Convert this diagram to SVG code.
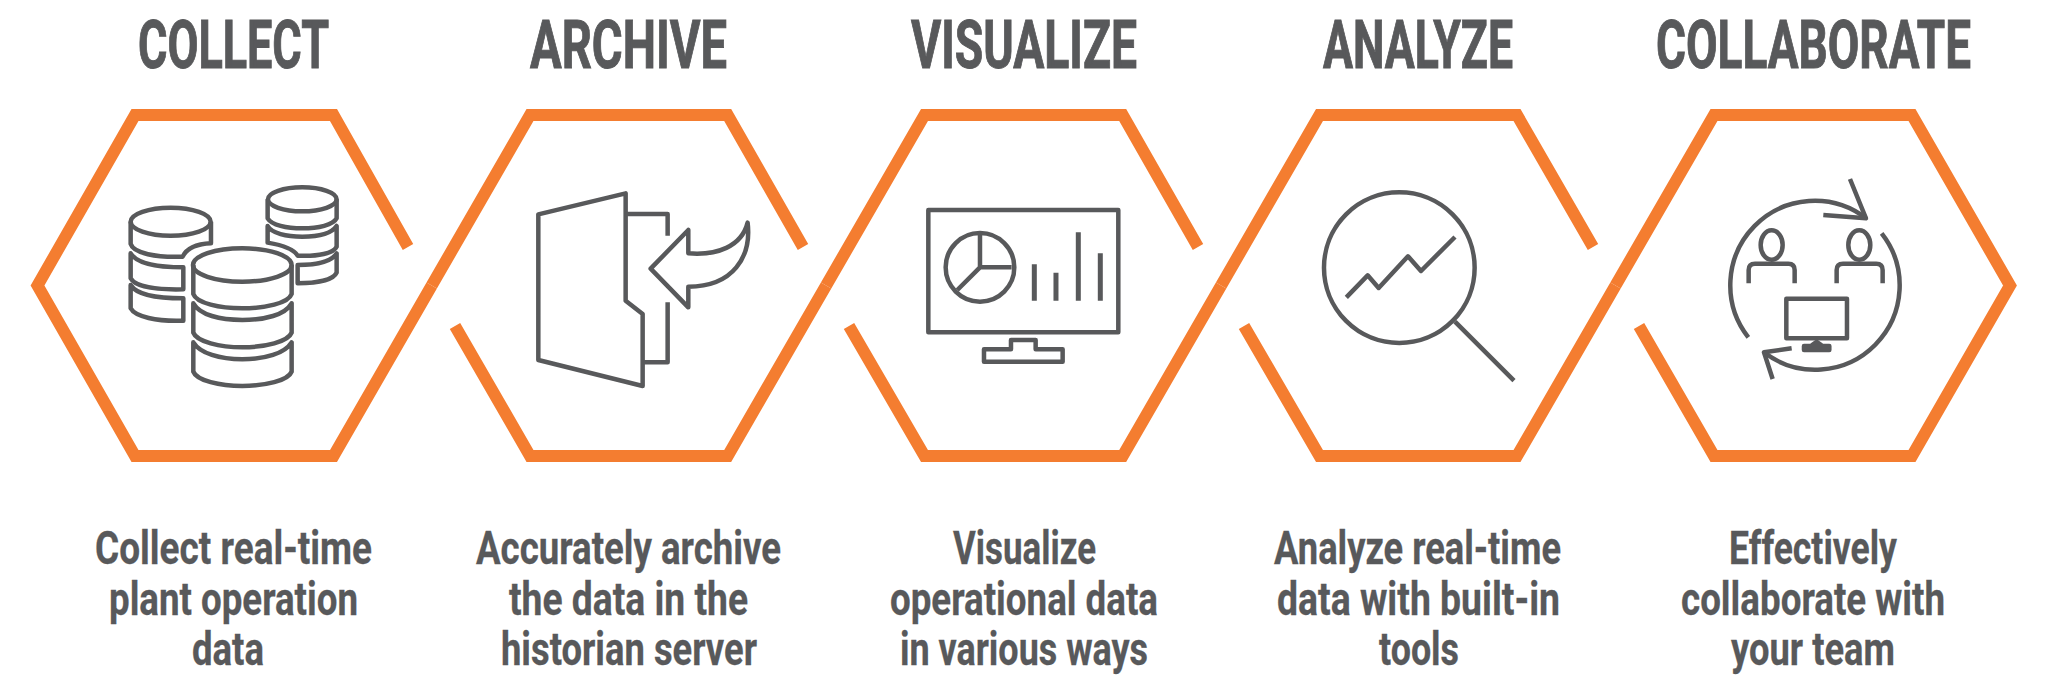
<svg xmlns="http://www.w3.org/2000/svg" width="2048" height="694" viewBox="0 0 2048 694">
<style>
.hex{fill:none;stroke:#F47D30;stroke-width:12;stroke-linejoin:miter}
.ic{fill:none;stroke:#58595B;stroke-width:13.5;stroke-linejoin:round}
.bars{stroke-width:15}
.ti{font-family:Roboto,"Liberation Sans",sans-serif;font-weight:700;font-size:66px;fill:#58595B;stroke:#58595B;stroke-width:1}
.de{font-family:Roboto,"Liberation Sans",sans-serif;font-weight:700;font-size:47px;fill:#58595B;stroke:#58595B;stroke-width:.3}
</style>
<rect width="2048" height="694" fill="#fff"/>
<g id="collect">
<path class="hex" d="M408 247L333.5 115H135L37.5 285.5L135 456H333.5L431.7 285.5"/>
<g class="ic" transform="translate(0 90) scale(.3333)">
<ellipse cx="727" cy="525" rx="148" ry="50"/>
<path d="M580 525V612C590 640 660 655 727 655C795 655 865 640 875 612V525"/>
<path d="M580 640C600 675 660 690 727 690C795 690 855 675 875 640V728C865 755 795 772 727 772C660 772 590 755 580 728Z"/>
<path d="M580 757C600 790 660 808 727 808C795 808 855 790 875 757V845C865 872 795 888 727 888C660 888 590 872 580 845Z"/>
<ellipse cx="512" cy="395" rx="120" ry="42"/>
<path d="M392 395V462C400 490 470 503 548 500C560 475 590 462 633 460V395"/>
<path d="M392 490C410 520 470 532 550 532V598C470 600 405 590 392 565Z"/>
<path d="M392 585C410 615 470 625 550 625V692C470 695 405 680 392 655Z"/>
<ellipse cx="907" cy="328" rx="103" ry="36"/>
<path d="M803 328V385C815 405 860 415 907 415C955 415 1000 405 1010 385V328"/>
<path d="M803 408C815 430 860 440 907 440C955 440 995 430 1010 408V470C1000 490 955 500 893 497C880 475 845 465 803 458Z"/>
<path d="M893 525C950 525 995 515 1010 490V548C1000 570 950 580 893 580Z"/>
</g>
<text class="ti" x="138" y="68" textLength="191" lengthAdjust="spacingAndGlyphs">COLLECT</text>
<text class="de" x="95" y="564" textLength="277" lengthAdjust="spacingAndGlyphs">Collect real-time</text>
<text class="de" x="109" y="615" textLength="249" lengthAdjust="spacingAndGlyphs">plant operation</text>
<text class="de" x="192" y="665" textLength="72" lengthAdjust="spacingAndGlyphs">data</text>
</g>
<g id="archive">
<path class="hex" d="M803 247L727.7 115H530L431.7 285.5M455 326L530 456H727.7L826.1 285.5"/>
<g class="ic" transform="translate(440 90) scale(.3333)">
<path d="M295 373L557 310V632L608 672V888L295 810Z"/>
<path d="M557 372H683V437M683 637V817H610"/>
<path d="M632 536L745 420V490C830 497 905 470 923 398C935 500 880 590 745 590V652Z"/>
</g>
<text class="ti" x="530" y="68" textLength="197" lengthAdjust="spacingAndGlyphs">ARCHIVE</text>
<text class="de" x="476" y="564" textLength="305" lengthAdjust="spacingAndGlyphs">Accurately archive</text>
<text class="de" x="509" y="615" textLength="239" lengthAdjust="spacingAndGlyphs">the data in the</text>
<text class="de" x="501" y="665" textLength="256" lengthAdjust="spacingAndGlyphs">historian server</text>
</g>
<g id="visualize">
<path class="hex" d="M1198 247L1122.7 115H924.5L826.1 285.5M849 326L924.5 456H1122.7L1221.1 285.5"/>
<g class="ic" transform="translate(840 90) scale(.3333)">
<rect x="265" y="360" width="570" height="367"/>
<circle cx="420" cy="532" r="103"/>
<path d="M420 430V532H515M420 532L352 600"/>
<path class="bars" d="M583 523V632M648 548V632M715 427V632M781 490V632"/>
<path d="M432 778H513V750H587V778H668V815H432Z"/>
</g>
<text class="ti" x="911" y="68" textLength="226" lengthAdjust="spacingAndGlyphs">VISUALIZE</text>
<text class="de" x="953" y="564" textLength="143" lengthAdjust="spacingAndGlyphs">Visualize</text>
<text class="de" x="890" y="615" textLength="268" lengthAdjust="spacingAndGlyphs">operational data</text>
<text class="de" x="900" y="665" textLength="248" lengthAdjust="spacingAndGlyphs">in various ways</text>
</g>
<g id="analyze">
<path class="hex" d="M1593 247L1517 115H1319.5L1221.1 285.5M1244 326L1319.5 456H1517L1615.5 285.5"/>
<g class="ic" transform="translate(1240 90) scale(.3333)">
<circle cx="478" cy="533" r="226"/>
<path d="M645 695L822 872"/>
<path d="M319 622L383 556L416 594L504 499L543 543L645 441"/>
</g>
<text class="ti" x="1323" y="68" textLength="190" lengthAdjust="spacingAndGlyphs">ANALYZE</text>
<text class="de" x="1274" y="564" textLength="287" lengthAdjust="spacingAndGlyphs">Analyze real-time</text>
<text class="de" x="1277" y="615" textLength="283" lengthAdjust="spacingAndGlyphs">data with built-in</text>
<text class="de" x="1379" y="665" textLength="80" lengthAdjust="spacingAndGlyphs">tools</text>
</g>
<g id="collaborate">
<path class="hex" d="M1615.5 285.5L1714 115H1912L2010 285.5L1912 456H1714L1639 326"/>
<g class="ic" transform="translate(1620 90) scale(.3333)">
<path d="M385 742A253 253 0 0 1 738 385"/>
<path d="M785 430A253 253 0 0 1 432 787"/>
<path d="M690 267L738 385L610 375"/>
<path d="M515 775L432 787L458 867"/>
<ellipse cx="455" cy="465" rx="33" ry="44"/>
<path d="M386 580V540Q386 521 405 521H505Q524 521 524 540V580"/>
<ellipse cx="718" cy="465" rx="33" ry="44"/>
<path d="M650 580V540Q650 521 669 521H769Q788 521 788 540V580"/>
<rect x="499" y="626" width="182" height="119"/>
<path d="M552 768H628V780H552ZM575 766L590 756L605 766"/>
</g>
<text class="ti" x="1656" y="68" textLength="315" lengthAdjust="spacingAndGlyphs">COLLABORATE</text>
<text class="de" x="1729" y="564" textLength="168" lengthAdjust="spacingAndGlyphs">Effectively</text>
<text class="de" x="1681" y="615" textLength="264" lengthAdjust="spacingAndGlyphs">collaborate with</text>
<text class="de" x="1731" y="665" textLength="164" lengthAdjust="spacingAndGlyphs">your team</text>
</g>
</svg>
